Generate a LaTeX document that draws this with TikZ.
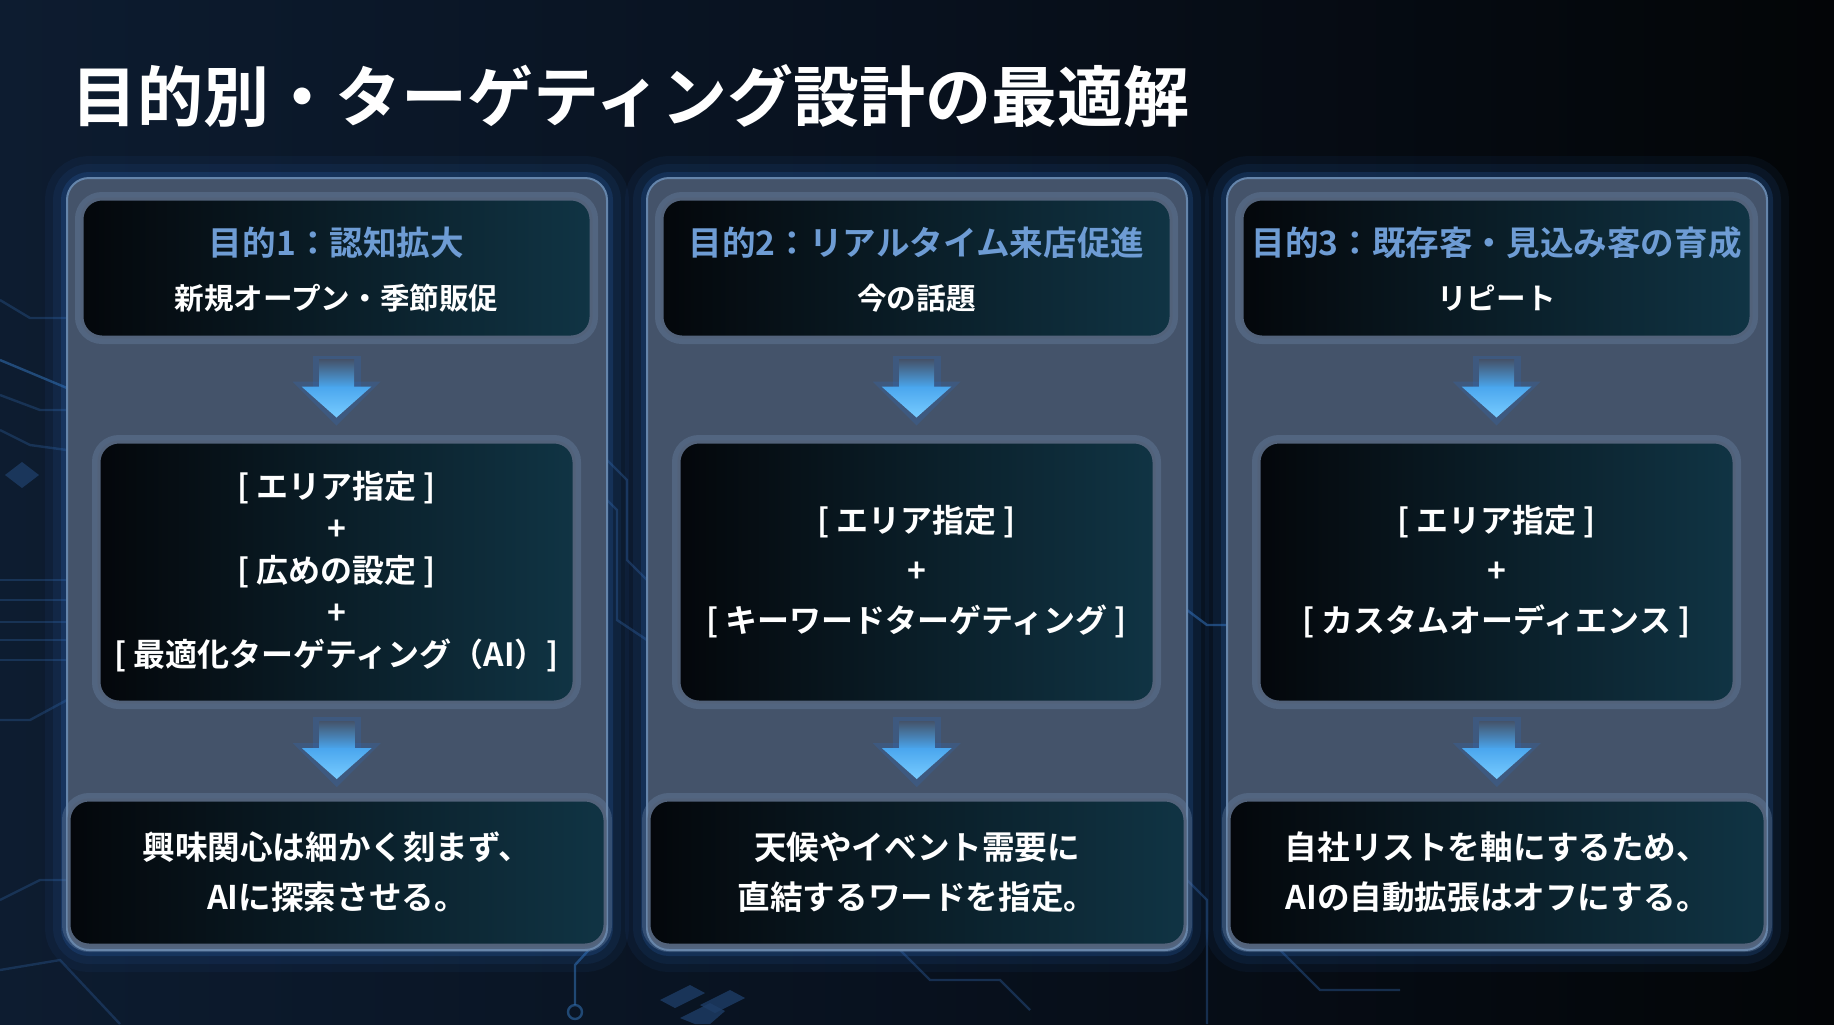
\documentclass[tikz,border=0pt]{standalone}
\usepackage{fontspec}
\setmainfont{Noto Sans CJK JP}[BoldFont={Noto Sans CJK JP Bold}]
\usetikzlibrary{calc}
\definecolor{bgL}{HTML}{0D1C30}
\definecolor{bgM}{HTML}{08111E}
\definecolor{bgR}{HTML}{030507}
\definecolor{panelfill}{HTML}{44536A}
\definecolor{panelline}{HTML}{6585AB}
\definecolor{glowc}{HTML}{2E6CC0}
\definecolor{haloc}{HTML}{6E88AA}
\definecolor{boxline}{HTML}{52627A}
\definecolor{boxL}{HTML}{04070B}
\definecolor{boxR}{HTML}{103444}
\definecolor{hdrblue}{HTML}{6E9CD4}
\definecolor{arrowA}{HTML}{4AA6EE}
\definecolor{arrowB}{HTML}{78CCFF}
\definecolor{circc}{HTML}{1E3D66}
\definecolor{circb}{HTML}{2F6AAA}
\begin{document}
\begin{tikzpicture}[x=0.5pt,y=-0.5pt,
  panelbox/.style={draw=panelline, line width=1pt, fill=panelfill, rounded corners=11pt,
    minimum width=270pt, minimum height=386pt, inner sep=0pt,
    preaction={draw=glowc, line width=22pt, opacity=0.07},
    preaction={draw=glowc, line width=14pt, opacity=0.10},
    preaction={draw=glowc, line width=6pt, opacity=0.20}},
  darkbox/.style={draw=boxline, line width=1.5pt, left color=boxL, right color=boxR,
    rounded corners=10pt, inner sep=0pt,
    preaction={draw=haloc, line width=7pt, opacity=0.35}},
  ttl/.style={text=white, font=\fontsize{33}{40}\selectfont\bfseries, inner sep=0pt, anchor=west},
  hlone/.style={text=hdrblue, font=\fontsize{16.8}{21}\selectfont\bfseries, inner sep=0pt},
  hltwo/.style={text=white, font=\fontsize{14.8}{18}\selectfont\bfseries, inner sep=0pt},
  midtxt/.style={text=white, align=center, inner sep=0pt},
  bottxt/.style={text=white, align=center, font=\fontsize{16.3}{25}\selectfont\bfseries, inner sep=0pt},
  circ/.style={draw=circc, line width=1.2pt, opacity=0.7},
  circbright/.style={draw=circb, line width=1.2pt, opacity=0.6},
]
\useasboundingbox (0,0) rectangle (1834,1024);
\shade[left color=bgL, right color=bgR, middle color=bgM] (0,0) rectangle (1834,1024);

% faint circuit traces in the background
\draw[circ] (0,300) -- (30,318) -- (67,318);
\draw[circbright] (0,360) -- (67,388);
\draw[circ] (0,395) -- (40,410) -- (67,410);
\draw[circ] (0,430) -- (30,445) -- (67,450);
\draw[circ] (0,580) -- (67,580);
\draw[circ] (0,600) -- (67,600);
\draw[circ] (0,622) -- (67,622);
\draw[circ] (0,640) -- (67,640);
\draw[circ] (0,660) -- (67,660);
\fill[circc, opacity=0.8] (5,475) -- (22,462) -- (39,475) -- (22,488) -- cycle;
\draw[circ] (0,720) -- (30,720) -- (67,700);
\draw[circ] (0,900) -- (40,880) -- (67,880);
\draw[circ] (0,970) -- (60,960) -- (120,1024);
\draw[circbright] (607,930) -- (575,965) -- (575,1005);
\draw[circbright] (575,1012) circle (7);
\draw[circ] (607,460) -- (627,480) -- (627,560) -- (647,580);
\draw[circ] (607,500) -- (617,510) -- (617,620) -- (647,640);
\draw[circbright] (1187,610) -- (1207,625) -- (1227,625);
\draw[circ] (1187,880) -- (1207,900) -- (1207,1024);
\fill[circc, opacity=0.8] (660,1000) -- (690,985) -- (705,993) -- (675,1008) -- cycle;
\fill[circc, opacity=0.8] (700,1005) -- (730,990) -- (745,998) -- (715,1013) -- cycle;
\fill[circc, opacity=0.8] (680,1018) -- (710,1003) -- (725,1011) -- (710,1024) -- (695,1024) -- cycle;
\draw[circ] (1280,950) -- (1320,990) -- (1400,990);
\draw[circ] (900,950) -- (930,980) -- (1000,980) -- (1030,1010);

% title
\node[ttl] (title) at (71,96) {目的別・ターゲティング設計の最適解};

\newcommand\purposecolumn[2]{%
  \node[panelbox] (p#1) at (#2,564) {};
  \node[darkbox, minimum width=254.5pt, minimum height=69pt] (h#1) at (#2-0.5,268) {};
  \node[darkbox, minimum width=237.5pt, minimum height=130pt] (m#1) at (#2-0.5,572) {};
  \node[darkbox, minimum width=268pt, minimum height=72.5pt] (b#1) at (#2,872.5) {};
  \coordinate (ua#1) at ($(h#1.south)!0.5!(m#1.north)$);
  \coordinate (la#1) at ($(m#1.south)!0.5!(b#1.north)$);
  \foreach \c in {ua#1,la#1}{%
    \fill[glowc, opacity=0.25] ($(\c)+(-24,-34)$) rectangle ($(\c)+(24,-2)$);
    \fill[glowc, opacity=0.25, line join=round] ($(\c)+(-44,-8)$) -- ($(\c)+(44,-8)$) -- ($(\c)+(0,36)$) -- cycle;
    \shade[top color=panelfill, bottom color=arrowA] ($(\c)+(-17.5,-30)$) rectangle ($(\c)+(17.5,-2)$);
    \shade[top color=arrowA, bottom color=arrowB] ($(\c)+(-35,-3)$) -- ($(\c)+(35,-3)$) -- ($(\c)+(0,28)$) -- cycle;
  }%
}
\purposecolumn{1}{337}
\purposecolumn{2}{917}
\purposecolumn{3}{1497}

% column 1
\node[hlone] (t1a) at ($(h1.center)+(0,-25)$) {目的1：認知拡大};
\node[hltwo] (t1b) at ($(h1.center)+(0,30)$) {新規オープン・季節販促};
\node[midtxt, font=\fontsize{16}{21}\selectfont\bfseries] (t1m) at (m1) {{[} エリア指定 {]}\\+\\{[} 広めの設定 {]}\\+\\{[} 最適化ターゲティング（AI）{]}};
\node[bottxt] (t1c) at (b1) {興味関心は細かく刻まず、\\AIに探索させる。};

% column 2
\node[hlone] (t2a) at ($(h2.center)+(0,-25)$) {目的2：リアルタイム来店促進};
\node[hltwo] (t2b) at ($(h2.center)+(0,30)$) {今の話題};
\node[midtxt, font=\fontsize{16}{25}\selectfont\bfseries] (t2m) at (m2) {{[} エリア指定 {]}\\+\\{[} キーワードターゲティング {]}};
\node[bottxt] (t2c) at (b2) {天候やイベント需要に\\直結するワードを指定。};

% column 3
\node[hlone] (t3a) at ($(h3.center)+(0,-25)$) {目的3：既存客・見込み客の育成};
\node[hltwo] (t3b) at ($(h3.center)+(0,30)$) {リピート};
\node[midtxt, font=\fontsize{16}{25}\selectfont\bfseries] (t3m) at (m3) {{[} エリア指定 {]}\\+\\{[} カスタムオーディエンス {]}};
\node[bottxt] (t3c) at (b3) {自社リストを軸にするため、\\AIの自動拡張はオフにする。};
\end{tikzpicture}
\end{document}
